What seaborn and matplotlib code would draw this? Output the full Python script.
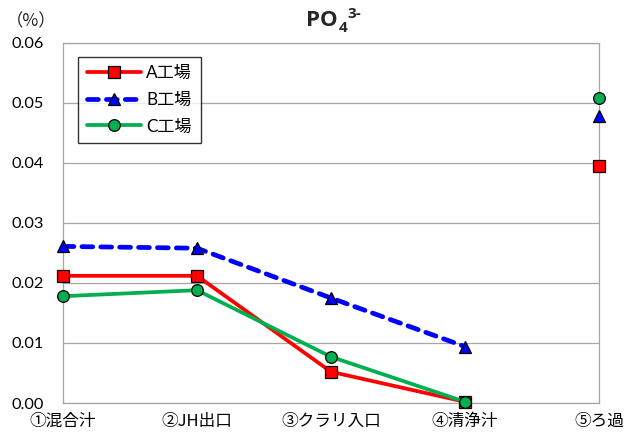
import numpy as np
import pandas as pd
import seaborn as sns
import matplotlib
matplotlib.use("Agg")
import matplotlib.pyplot as plt

# Sampling points along the process
categories = ["①混合汁", "②JH出口", "③クラリ入口", "④清浄汁", "⑤ろ過"]

# PO4(3-) content (%) per plant
plant_a = [0.0212, 0.0212, 0.0052, 0.0002, 0.0395]
plant_b = [0.0261, 0.0258, 0.0175, 0.0094, 0.0478]
plant_c = [0.0178, 0.0188, 0.0077, 0.0002, 0.0509]
series_names = ["A工場", "B工場", "C工場"]

yticks = [0.00, 0.01, 0.02, 0.03, 0.04, 0.05, 0.06]

sns.set_theme(style="white")
plt.rcParams["font.family"] = ["Lato", "Noto Sans CJK JP", "DejaVu Sans"]

fig = plt.figure(figsize=(6.24, 4.40), dpi=100)
ax = fig.add_axes([63 / 624, 37 / 440, 536 / 624, 360 / 440])

styles = [
    dict(color="#FF0000", marker="s", linestyle="-", lw=2.7),
    dict(color="#0000FF", marker="^", linestyle=(0, (2.3, 1.7)), lw=3.4),
    dict(color="#00B050", marker="o", linestyle="-", lw=2.7),
]
ms = {"s": 8.2, "^": 8.6, "o": 8.4}

pos = np.arange(len(categories))
for name, vals, st in zip(series_names, [plant_a, plant_b, plant_c], styles):
    vals = np.asarray(vals, dtype=float)
    # connected stretch ①〜④
    sns.lineplot(
        x=pos[:4], y=vals[:4], ax=ax, label=name,
        color=st["color"], linestyle=st["linestyle"], linewidth=st["lw"],
        marker=st["marker"], markersize=ms[st["marker"]],
        markerfacecolor=st["color"], markeredgecolor="black", markeredgewidth=0.9,
        dash_capstyle="round", zorder=3, clip_on=False,
    )
    # ⑤ stands alone
    sns.lineplot(
        x=pos[4:], y=vals[4:], ax=ax, label="_nolegend_",
        color=st["color"], linestyle="none",
        marker=st["marker"], markersize=ms[st["marker"]],
        markerfacecolor=st["color"], markeredgecolor="black", markeredgewidth=0.9,
        zorder=4, clip_on=False,
    )

ax.set_xlim(0, 4)
ax.set_ylim(0, 0.06)
ax.set_yticks(yticks)
ax.set_yticklabels([f"{v:.2f}" for v in yticks], fontsize=11.8, color="black")
ax.set_xticks(pos)
ax.set_xticklabels(categories, fontsize=12, color="black",
                   family=["Noto Sans CJK JP", "DejaVu Sans"])
ax.tick_params(axis="x", direction="in", length=5, width=0.9, color="#999999", pad=7)
ax.tick_params(axis="y", length=0, pad=14)
ax.set_xlabel("")
ax.set_ylabel("")

ax.grid(axis="y", color="#A6A6A6", linewidth=0.9)
ax.set_axisbelow(True)
for side, sp in ax.spines.items():
    sp.set_visible(True)
    sp.set_color("#A6A6A6")
    sp.set_linewidth(0.9)

leg = ax.legend(
    loc="upper left", bbox_to_anchor=(0.028, 0.962),
    prop={"family": ["Lato", "Noto Sans CJK JP"], "size": 12.3},
    frameon=True, fancybox=False, edgecolor="black",
    handlelength=3.2, handletextpad=0.3, labelspacing=0.62,
    borderpad=0.5, borderaxespad=0,
)
leg.get_frame().set_linewidth(1.0)
for t in leg.get_texts():
    t.set_color("black")

# Title: PO4 3-
title_font = ["Open Sans", "DejaVu Sans"]
fig.text(338 / 624, 1 - 21 / 440, "PO", ha="right", va="center",
         fontsize=16, fontweight="bold", family=title_font)
fig.text(338.5 / 624, 1 - 28 / 440, "4", ha="left", va="center",
         fontsize=11, fontweight="bold", family=title_font)
fig.text(347 / 624, 1 - 14 / 440, "3-", ha="left", va="center",
         fontsize=11, fontweight="bold", family=title_font)

# Unit label
fig.text(31 / 624, 1 - 21 / 440, "（%）", ha="center", va="center",
         fontsize=12.5, family=["Noto Sans CJK JP", "DejaVu Sans"])

fig.savefig("out.png", dpi=100)
